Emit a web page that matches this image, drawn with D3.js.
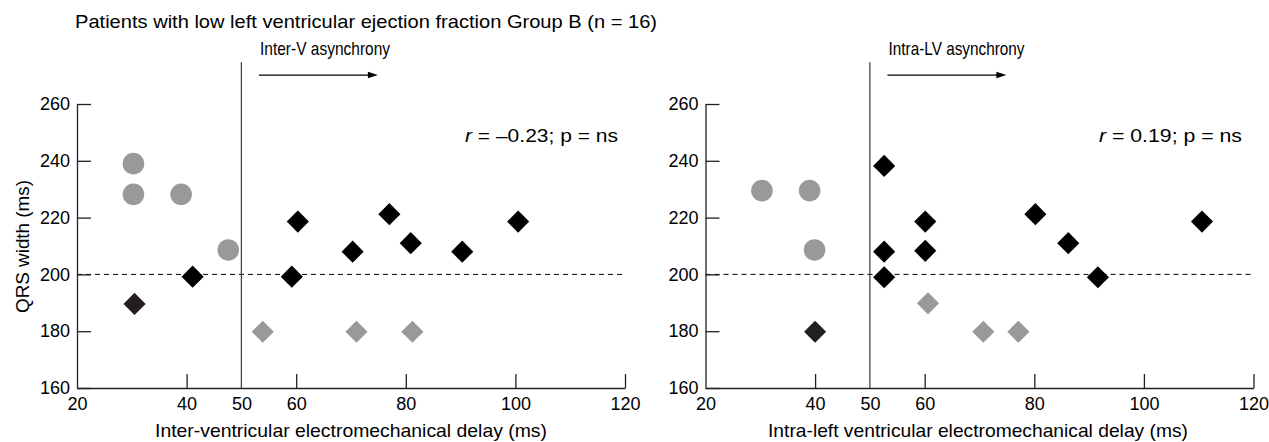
<!DOCTYPE html>
<html>
  <head>
    <meta charset="utf-8">
    <style>
      body { margin: 0; background: #fff; }
      svg { font-family: "Liberation Sans", Arial, sans-serif; }
    </style>
  </head>
  <body>
    <script src="https://cdn.jsdelivr.net/npm/d3@7/dist/d3.min.js"></script>
    <script>
    var W = 1269, H = 442;

    var title = "Patients with low left ventricular ejection fraction Group B (n = 16)";
    var xTicks = [20, 40, 50, 60, 80, 100, 120];
    var yTicks = [160, 180, 200, 220, 240, 260];

    // inter-ventricular panel  [delay, QRS]
    var interCircles = [[30.3, 239], [30.3, 228.2], [39, 228.2], [47.6, 208.6]];
    var interBlack = [[41.1, 199.2], [59.2, 199.2], [60.3, 218.6], [70.3, 208], [77, 221.2],
                      [80.9, 211], [90.3, 208], [100.5, 218.6]];
    var interDark = [[30.5, 189.6]];
    var interGray = [[53.9, 179.8], [71, 179.8], [81.2, 179.8]];

    // intra-left ventricular panel
    var intraCircles = [[30.3, 229.5], [39, 229.5], [39.9, 208.6]];
    var intraBlack = [[52.6, 238.2], [52.6, 208], [52.6, 199], [60.1, 218.6], [60.1, 208.3],
                      [80.2, 221.2], [86.2, 211], [91.6, 199], [110.6, 218.6]];
    var intraDark = [[40, 179.8]];
    var intraGray = [[60.6, 189.8], [70.7, 179.8], [77.1, 179.8]];

    var svg = d3.select("body").append("svg")
        .attr("width", W)
        .attr("height", H);

    svg.append("text")
      .attr("x", 75).attr("y", 28)
      .attr("font-size", 19)
      .attr("textLength", 582).attr("lengthAdjust", "spacingAndGlyphs")
      .text(title);

    function panel(opt) {
      var x = d3.scaleLinear().domain([20, 120]).range([opt.left, opt.left + 548]);
      var y = d3.scaleLinear().domain([160, 260]).range([388, 104]);

      var g = svg.append("g");

      // threshold lines
      g.append("line")
        .attr("x1", x(20)).attr("x2", x(120))
        .attr("y1", y(200)).attr("y2", y(200))
        .attr("stroke", "#000").attr("stroke-width", 1)
        .attr("stroke-dasharray", "5,4");
      g.append("line")
        .attr("x1", x(50)).attr("x2", x(50))
        .attr("y1", y(274.7)).attr("y2", y(160))
        .attr("stroke", "#444").attr("stroke-width", 1.3);

      // arrow + label
      g.append("line")
        .attr("x1", x(53.2)).attr("x2", x(73.5))
        .attr("y1", y(270.2)).attr("y2", y(270.2))
        .attr("stroke", "#000").attr("stroke-width", 1.2);
      g.append("path")
        .attr("d", "M" + x(74.9) + "," + y(270.2) + "l-10,-3.2v6.4z")
        .attr("fill", "#000");
      g.append("text")
        .attr("x", x(53.4)).attr("y", 55)
        .attr("font-size", 19)
        .attr("textLength", opt.labelLen).attr("lengthAdjust", "spacingAndGlyphs")
        .text(opt.label);

      g.append("text")
        .attr("x", opt.rx).attr("y", 142)
        .attr("font-size", 18.5)
        .attr("text-anchor", "end")
        .attr("textLength", opt.rLen).attr("lengthAdjust", "spacingAndGlyphs")
        .html('<tspan font-style="italic">r</tspan> = ' + opt.r + '; p = ns');

      // axes
      var xa = g.append("g")
        .attr("transform", "translate(0," + y(160) + ")")
        .call(d3.axisBottom(x).tickValues(xTicks).tickSizeInner(-14).tickSizeOuter(0).tickPadding(9));
      var ya = g.append("g")
        .attr("transform", "translate(" + x(20) + ",0)")
        .call(d3.axisLeft(y).tickValues(yTicks).tickSizeInner(-14).tickSizeOuter(0).tickPadding(7));
      [xa, ya].forEach(function (a) {
        a.attr("font-family", null).attr("font-size", 18);
        a.selectAll("path, line").attr("stroke", "#222").attr("stroke-width", 1.3);
        a.selectAll("text").attr("fill", "#000");
      });
      xa.selectAll(".tick").filter(function (d) { return d === 20 || d === 50; })
        .select("line").remove();

      g.append("text")
        .attr("x", opt.xTitleX).attr("y", 437)
        .attr("font-size", 18.5)
        .attr("textLength", opt.xTitleLen).attr("lengthAdjust", "spacingAndGlyphs")
        .text(opt.xTitle);

      // markers
      g.selectAll(".c").data(opt.circles).enter().append("circle")
        .attr("cx", function (d) { return x(d[0]); })
        .attr("cy", function (d) { return y(d[1]); })
        .attr("r", 10.8)
        .attr("fill", "#999");

      var diamond = d3.symbol().type(d3.symbolSquare).size(245);
      function diamonds(data, color) {
        g.selectAll(null).data(data).enter().append("path")
          .attr("d", diamond)
          .attr("transform", function (d) {
            return "translate(" + x(d[0]) + "," + y(d[1]) + ") rotate(45)";
          })
          .attr("fill", color);
      }
      diamonds(opt.gray, "#999");
      diamonds(opt.dark, "#231f20");
      diamonds(opt.black, "#000");
    }

    panel({
      left: 77, label: "Inter-V asynchrony", labelLen: 130, r: "\u20130.23", rx: 618, rLen: 153,
      xTitle: "Inter-ventricular electromechanical delay (ms)", xTitleX: 155, xTitleLen: 392,
      circles: interCircles, black: interBlack, dark: interDark, gray: interGray
    });
    panel({
      left: 705.5, label: "Intra-LV asynchrony", labelLen: 136, r: "0.19", rx: 1242, rLen: 143,
      xTitle: "Intra-left ventricular electromechanical delay (ms)", xTitleX: 768, xTitleLen: 420,
      circles: intraCircles, black: intraBlack, dark: intraDark, gray: intraGray
    });

    svg.append("text")
      .attr("transform", "translate(29,246.5) rotate(-90)")
      .attr("font-size", 18.5)
      .attr("text-anchor", "middle")
      .attr("textLength", 133).attr("lengthAdjust", "spacingAndGlyphs")
      .text("QRS width (ms)");
    </script>
  </body>
</html>
